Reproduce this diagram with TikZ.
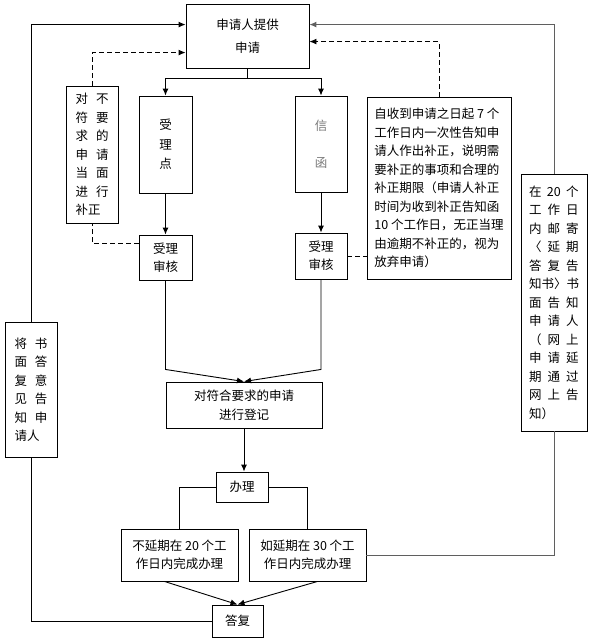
\documentclass[tikz,border=0pt]{standalone}
\usepackage{fontspec}
\setmainfont{Noto Sans CJK SC}
\usetikzlibrary{arrows.meta,calc}
\definecolor{txtgray}{RGB}{120,120,120}
\definecolor{lngray}{RGB}{95,95,95}
\newcommand\gl[1]{\makebox[12.5pt]{#1}}
\newcommand\pairrow[2]{\gl{#1}\hspace{8pt}\gl{#2}}
\newcommand\triprow[3]{\gl{#1}\hspace{6pt}\gl{#2}\hspace{6pt}\gl{#3}}
\begin{document}
\begin{tikzpicture}[x=1pt,y=-1pt,
  box/.style={draw, line width=0.9pt, inner sep=0pt, align=center, font=\fontsize{12.5}{18.5}\selectfont},
  line/.style={line width=0.9pt},
  arr/.style={line, -{Latex[length=7pt,width=6pt]}},
  dsh/.style={line, dash pattern=on 5pt off 3pt},
]
\useasboundingbox (0,0) rectangle (591,638);

\node[box, minimum width=123pt, minimum height=64pt, font=\fontsize{12.5}{23}\selectfont] (top) at (247.5,36) {申请人提供\\申请};
\node[box, minimum width=53pt, minimum height=97pt, font=\fontsize{12.5}{19.5}\selectfont] (shoudian) at (165.5,144.5) {受\\理\\点};
\node[box, minimum width=52pt, minimum height=96pt, font=\fontsize{12.5}{37}\selectfont, text=txtgray] (xinhan) at (321,144) {信\\函};
\node[box, minimum width=53pt, minimum height=45pt, font=\fontsize{12.5}{18}\selectfont] (shenhe1) at (165.5,257.5) {受理\\审核};
\node[box, minimum width=52pt, minimum height=46pt, font=\fontsize{12.5}{18}\selectfont] (shenhe2) at (321,256) {受理\\审核};
\node[box, minimum width=52pt, minimum height=137pt, align=left] (buzheng) at (92,154.5)
  {\pairrow{对}{不}\\\pairrow{符}{要}\\\pairrow{求}{的}\\\pairrow{申}{请}\\\pairrow{当}{面}\\\pairrow{进}{行}\\补正};
\node[box, minimum width=144pt, minimum height=182pt, align=left] (bigbox) at (439,188)
  {自收到申请之日起 7 个\\工作日内一次性告知申\\请人作出补正，说明需\\要补正的事项和合理的\\补正期限（申请人补正\\时间为收到补正告知函\\10 个工作日，无正当理\\由逾期不补正的，视为\\放弃申请）};
\node[box, minimum width=66pt, minimum height=257pt, align=left] (rightbox) at (554,302.5)
  {\triprow{在}{20}{个}\\\triprow{工}{作}{日}\\\triprow{内}{邮}{寄}\\\triprow{〈}{延}{期}\\\triprow{答}{复}{告}\\知书〉书\\\triprow{面}{告}{知}\\\triprow{申}{请}{人}\\\triprow{（}{网}{上}\\\triprow{申}{请}{延}\\\triprow{期}{通}{过}\\\triprow{网}{上}{告}\\知）};
\node[box, minimum width=52pt, minimum height=135pt, align=left] (leftbox) at (31,389.5)
  {\pairrow{将}{书}\\\pairrow{面}{答}\\\pairrow{复}{意}\\\pairrow{见}{告}\\\pairrow{知}{申}\\请人};
\node[box, minimum width=156pt, minimum height=46pt, font=\fontsize{12.5}{19}\selectfont] (register) at (244,405) {对符合要求的申请\\进行登记};
\node[box, minimum width=52pt, minimum height=30pt] (banli) at (242,487) {办理};
\node[box, minimum width=117pt, minimum height=52pt, font=\fontsize{12.5}{18}\selectfont] (buyanqi) at (179.5,555) {不延期在 20 个工\\作日内完成办理};
\node[box, minimum width=117pt, minimum height=52pt, font=\fontsize{12.5}{18}\selectfont] (yanqi) at (307.5,555) {如延期在 30 个工\\作日内完成办理};
\node[box, minimum width=51pt, minimum height=32pt] (dafu) at (237.5,621) {答复};

% left loop
\draw[line] (dafu.west) -| (leftbox.south);
\draw[arr] (leftbox.north) |- ($(top.north west)+(0,21)$);
\draw[arr,dsh] (buzheng.north) |- ($(top.north west)+(0,49)$);
\draw[dsh] ($(shenhe1.north west)+(0,9)$) -| (buzheng.south);
% right loop
\draw[line,lngray,line width=1pt] (yanqi.east) -| (rightbox.south);
\draw[arr,lngray,line width=1pt] (rightbox.north) |- ($(top.north east)+(0,21)$);
\draw[arr,dsh] (bigbox.north) |- ($(top.north east)+(0,38)$);
\draw[dsh] (shenhe2.east) -- (bigbox.west |- shenhe2.east);
% main flow
\draw[arr] (top.south) -- ++(0,10) -| (shoudian.north);
\draw[arr] (top.south) -- ++(0,10) -| (xinhan.north);
\draw[arr] (shoudian) -- (shenhe1);
\draw[arr] (xinhan) -- (shenhe2);
\draw[arr] (shenhe1.south) -- ++(0,89) -- (register.north);
\draw[arr] (shenhe2.south) -- ++(0,90) -- (register.north);
\draw[arr] (register.south) -- (register.south |- banli.north);
\draw[line] (banli.west) -| (buyanqi.north);
\draw[line] (banli.east) -| (yanqi.north);
\draw[arr] ($(buyanqi.south)+(-15,0)$) -- (dafu.north);
\draw[arr] ($(yanqi.south)+(10,0)$) -- (dafu.north);
\end{tikzpicture}
\end{document}
